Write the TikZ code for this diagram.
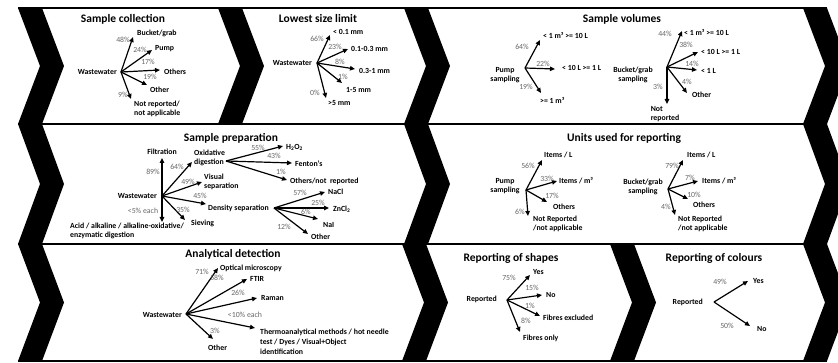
\documentclass[tikz,border=0pt]{standalone}
\usepackage{fontspec}
\setmainfont{Carlito}
\usetikzlibrary{arrows.meta}

\begin{document}
\begin{tikzpicture}[x=1pt,y=-1pt,
  ttl/.style={font=\bfseries\fontsize{11.5}{13}\selectfont,inner sep=0pt},
  lab/.style={font=\bfseries\fontsize{7.8}{8.8}\selectfont,inner sep=0pt,align=left},
  pct/.style={font=\fontsize{7.8}{8.8}\selectfont,text=black!60,inner sep=0pt},
  arr/.style={-{Triangle[length=5pt,width=4.4pt]},line width=1.2pt},
  band/.style={fill=black}]
\useasboundingbox (0,0) rectangle (838,363);
\clip (0,0) rectangle (838,363);

% rows
\foreach \y in {8,124,244,361}
  \draw[line width=1.5pt] (18,\y) -- (827,\y);

% chevrons
\foreach \x/\t/\b in {18/8/124,18/124/244,18/244/361,218/8/124,404/8/124,
                      404/124/244,402/244/361,610/244/361,803/8/124,
                      803/124/244,803/244/361}
  \fill[band] (\x,\t) -- ({\x+22},{(\t+\b)/2}) -- (\x,\b) -- ({\x+24},\b)
     -- ({\x+46},{(\t+\b)/2}) -- ({\x+24},\t) -- cycle;

% sample collection
\node[ttl] (tcoll) at (123,19) {Sample collection};
\node[lab,anchor=east] (wwcoll) at (117,72) {Wastewater};
\coordinate (o1) at (121,72);
\foreach \n/\x/\y in {1/133/37,2/152/50,3/160/70,4/147/85,5/131/99} {
  \coordinate (a1\n) at (\x,\y);
  \draw[arr] (o1) -- (a1\n);
}
\node[lab,anchor=west] (bucket) at (137,33) {Bucket/grab};
\node[lab,anchor=west] (pump) at (155,49) {Pump};
\node[lab,anchor=west] (others1) at (164,72) {Others};
\node[lab,anchor=west] (other1) at (150,90) {Other};
\node[lab,anchor=north west] (notrep1) at (134,101) {Not reported/\\not applicable};
\node[pct] (p48) at (123,40) {48\%};
\node[pct] (p24) at (140,50) {24\%};
\node[pct] (p17) at (148,62) {17\%};
\node[pct] (p19) at (150,77) {19\%};
\node[pct] (p9) at (123,95) {9\%};

% lowest size limit
\node[ttl] (tsize) at (318,19) {Lowest size limit};
\node[lab,anchor=east] (wwsize) at (312,63) {Wastewater};
\coordinate (o2) at (317,63);
\foreach \n/\x/\y in {1/330/35,2/348/49,3/355/69,4/342/83,5/326/98} {
  \coordinate (a2\n) at (\x,\y);
  \draw[arr] (o2) -- (a2\n);
}
\node[lab,anchor=west] (s1) at (333,32) {< 0.1 mm};
\node[lab,anchor=west] (s2) at (351,49) {0.1-0.3 mm};
\node[lab,anchor=west] (s3) at (359,71) {0.3-1 mm};
\node[lab,anchor=west] (s4) at (346,90) {1-5 mm};
\node[lab,anchor=west] (s5) at (328,103) {>5 mm};
\node[pct] (p66) at (317,39) {66\%};
\node[pct] (p23) at (335,47) {23\%};
\node[pct] (p8) at (340,62) {8\%};
\node[pct] (p1) at (343,77) {1\%};
\node[pct] (p0) at (315,93) {0\%};

% sample volumes
\node[ttl] (tvol) at (622,19) {Sample volumes};
\node[lab,align=center] (pumpvol) at (505,75) {Pump\\sampling};
\coordinate (o3) at (525,68);
\foreach \n/\x/\y in {1/540/40,2/555/69,3/541/93} {
  \coordinate (a3\n) at (\x,\y);
  \draw[arr] (o3) -- (a3\n);
}
\node[lab,anchor=west] (v1) at (543,35) {< 1 m³ >= 10 L};
\node[lab,anchor=west] (v2) at (562,68) {< 10 L >= 1 L};
\node[lab,anchor=west] (v3) at (540,100) {>= 1 m³};
\node[pct] (p64) at (522,47) {64\%};
\node[pct] (p22) at (543,64) {22\%};
\node[pct] (p19b) at (526,87) {19\%};

\node[lab,align=center] (bucketvol) at (633,75) {Bucket/grab\\sampling};
\coordinate (o4) at (667,67);
\foreach \n/\x/\y in {1/682/31,2/698/52,3/697/70,4/687/93,5/667/104} {
  \coordinate (a4\n) at (\x,\y);
  \draw[arr] (o4) -- (a4\n);
}
\node[lab,anchor=west] (w1) at (684,32) {< 1 m³ >= 10 L};
\node[lab,anchor=west] (w2) at (701,52) {< 10 L >= 1 L};
\node[lab,anchor=west] (w3) at (701,71) {< 1 L};
\node[lab,anchor=west] (w4) at (692,95) {Other};
\node[lab,anchor=north] (w5) at (665,106) {Not\\reported};
\node[pct] (p44) at (665,34) {44\%};
\node[pct] (p38) at (686,45) {38\%};
\node[pct] (p14) at (692,64) {14\%};
\node[pct] (p4) at (687,82) {4\%};
\node[pct] (p3) at (658,87) {3\%};

% sample preparation
\node[ttl] (tprep) at (231,138) {Sample preparation};
\node[lab,anchor=east] (wwprep) at (157,196) {Wastewater};
\coordinate (o5) at (162,196);
\foreach \n/\x/\y in {1/162/158,2/192/162,3/202/182,4/206/204,5/185/220,6/162/222} {
  \coordinate (a5\n) at (\x,\y);
  \draw[arr] (o5) -- (a5\n);
}
\node[lab] (filt) at (162,152) {Filtration};
\node[lab,anchor=west] (oxid) at (194,158) {Oxidative\\digestion};
\node[lab,anchor=west] (visual) at (204,182) {Visual\\separation};
\node[lab,anchor=west] (dens) at (208,208) {Density separation};
\node[lab,anchor=west] (siev) at (191,223) {Sieving};
\node[lab,anchor=west] (acid) at (70,231) {Acid / alkaline / alkaline-oxidative/\\enzymatic digestion};
\node[pct] (p89) at (153,172) {89\%};
\node[pct] (p64b) at (177,167) {64\%};
\node[pct] (p49) at (188,182) {49\%};
\node[pct] (p45) at (200,196) {45\%};
\node[pct] (p35) at (183,210) {35\%};
\node[pct] (p5) at (143,211) {<5\% each};

\coordinate (o6) at (226,161);
\foreach \n/\x/\y in {1/283/146,2/292/163,3/287/180} {
  \coordinate (a6\n) at (\x,\y);
  \draw[arr] (o6) -- (a6\n);
}
\node[lab,anchor=west] (h2o2) at (286,147) {H\textsubscript{2}O\textsubscript{2}};
\node[lab,anchor=west] (fenton) at (295,164) {Fenton's};
\node[lab,anchor=west] (othox) at (290,181) {Others/not\ \ reported};
\node[pct] (p55) at (258,148) {55\%};
\node[pct] (p43) at (274,156) {43\%};
\node[pct] (p1b) at (281,172) {1\%};

\coordinate (o7) at (274,208);
\foreach \n/\x/\y in {1/325/192,2/329/208,3/318/219,4/308/234} {
  \coordinate (a7\n) at (\x,\y);
  \draw[arr] (o7) -- (a7\n);
}
\node[lab,anchor=west] (nacl) at (328,192) {NaCl};
\node[lab,anchor=west] (zncl) at (333,209) {ZnCl\textsubscript{2}};
\node[lab,anchor=west] (nai) at (323,225) {NaI};
\node[lab,anchor=west] (othdens) at (311,237) {Other};
\node[pct] (p57) at (300,193) {57\%};
\node[pct] (p25) at (318,203) {25\%};
\node[pct] (p6) at (306,212) {6\%};
\node[pct] (p12) at (284,227) {12\%};

% units used for reporting
\node[ttl] (tunits) at (624,138) {Units used for reporting};
\node[lab,align=center] (pumpunit) at (505,186) {Pump\\sampling};
\coordinate (o8) at (526,190);
\foreach \n/\x/\y in {1/542/160,2/557/181,3/547/202,4/528/216} {
  \coordinate (a8\n) at (\x,\y);
  \draw[arr] (o8) -- (a8\n);
}
\node[lab,anchor=west] (u1) at (544,155) {Items / L};
\node[lab,anchor=west] (u2) at (559,181) {Items / m³};
\node[lab,anchor=west] (u3) at (553,207) {Others};
\node[lab,anchor=west] (u4) at (533,224) {Not Reported\\/not applicable};
\node[pct] (p56) at (528,166) {56\%};
\node[pct] (p33) at (547,179) {33\%};
\node[pct] (p17b) at (552,196) {17\%};
\node[pct] (p6b) at (520,212) {6\%};

\node[lab,align=center] (bucketunit) at (643,187) {Bucket/grab\\sampling};
\coordinate (o9) at (668,189);
\foreach \n/\x/\y in {1/683/160,2/698/181,3/688/199,4/675/215} {
  \coordinate (a9\n) at (\x,\y);
  \draw[arr] (o9) -- (a9\n);
}
\node[lab,anchor=west] (b1) at (687,155) {Items / L};
\node[lab,anchor=west] (b2) at (702,181) {Items / m³};
\node[lab,anchor=west] (b3) at (693,205) {Others};
\node[lab,anchor=west] (b4) at (678,224) {Not Reported\\/not applicable};
\node[pct] (p79) at (672,166) {79\%};
\node[pct] (p7) at (690,178) {7\%};
\node[pct] (p10) at (694,195) {10\%};
\node[pct] (p4b) at (666,207) {4\%};

% analytical detection
\node[ttl] (tdet) at (233,254) {Analytical detection};
\node[lab,anchor=east] (wwdet) at (182,315) {Wastewater};
\coordinate (o10) at (186,314);
\foreach \n/\x/\y in {1/218/268,2/247/279,3/257/298,4/255/328,5/213/339} {
  \coordinate (a10\n) at (\x,\y);
  \draw[arr] (o10) -- (a10\n);
}
\node[lab,anchor=west] (optic) at (220,268) {Optical microscopy};
\node[lab,anchor=west] (ftir) at (250,279) {FTIR};
\node[lab,anchor=west] (raman) at (261,298) {Raman};
\node[lab,anchor=west,font=\bfseries\fontsize{7.8}{10}\selectfont] (thermo) at (260,342)
  {Thermoanalytical methods / hot needle\\test / Dyes / Visual+Object\\identification};
\node[lab,anchor=west] (othdet) at (208,348) {Other};
\node[pct] (p71) at (202,272) {71\%};
\node[pct] (p58) at (217,278) {58\%};
\node[pct] (p26) at (238,293) {26\%};
\node[pct] (p10b) at (245,315) {<10\% each};
\node[pct] (p3b) at (215,331) {3\%};

% reporting of shapes
\node[ttl] (tshape) at (511,258) {Reporting of shapes};
\node[lab,anchor=east] (repshape) at (497,299) {Reported};
\coordinate (o11) at (507,300);
\foreach \n/\x/\y in {1/530/275,2/542/295,3/540/316,4/520/332} {
  \coordinate (a11\n) at (\x,\y);
  \draw[arr] (o11) -- (a11\n);
}
\node[lab,anchor=west] (yes1) at (533,272) {Yes};
\node[lab,anchor=west] (no1) at (546,295) {No};
\node[lab,anchor=west] (fexcl) at (543,318) {Fibres excluded};
\node[lab,anchor=west] (fonly) at (523,338) {Fibres only};
\node[pct] (p75) at (509,278) {75\%};
\node[pct] (p15) at (532,288) {15\%};
\node[pct] (p1c) at (530,306) {1\%};
\node[pct] (p8b) at (526,321) {8\%};

% reporting of colours
\node[ttl] (tcol) at (714,258) {Reporting of colours};
\node[lab,anchor=east] (repcol) at (703,302) {Reported};
\coordinate (o12) at (714,302);
\foreach \n/\x/\y in {1/748/281,2/750/326} {
  \coordinate (a12\n) at (\x,\y);
  \draw[arr] (o12) -- (a12\n);
}
\node[lab,anchor=west] (yes2) at (753,281) {Yes};
\node[lab,anchor=west] (no2) at (757,329) {No};
\node[pct] (p49b) at (720,282) {49\%};
\node[pct] (p50) at (727,326) {50\%};
\end{tikzpicture}
\end{document}
